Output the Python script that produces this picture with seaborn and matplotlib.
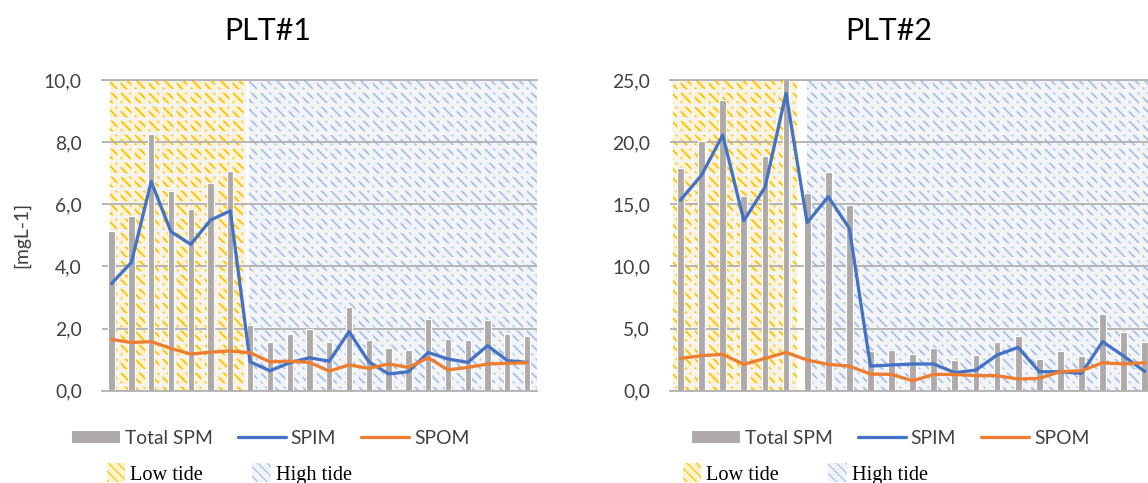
import matplotlib
matplotlib.use("Agg")
import matplotlib as mpl
import matplotlib.pyplot as plt
import pandas as pd
import seaborn as sns
from matplotlib.patches import Patch
from matplotlib.lines import Line2D
from matplotlib.ticker import FuncFormatter, MultipleLocator

# ---- PLT#1 (mg L-1) ----
plt1_total = [5.14, 5.62, 8.26, 6.43, 5.85, 6.70, 7.08, 2.11, 1.57, 1.82, 1.97,
              1.57, 2.68, 1.64, 1.37, 1.31, 2.31, 1.68, 1.63, 2.26, 1.82, 1.76]
plt1_spim = [3.45, 4.13, 6.73, 5.12, 4.71, 5.49, 5.79, 0.93, 0.64, 0.90, 1.06,
             0.95, 1.90, 0.93, 0.54, 0.61, 1.23, 1.02, 0.91, 1.45, 0.97, 0.91]
plt1_spom = [1.65, 1.55, 1.58, 1.36, 1.18, 1.24, 1.28, 1.22, 0.93, 0.95, 0.91,
             0.63, 0.83, 0.72, 0.86, 0.75, 1.06, 0.67, 0.75, 0.86, 0.88, 0.90]

# ---- PLT#2 (mg L-1) ----
plt2_total = [17.95, 20.12, 23.39, 15.69, 18.88, 27.00, 15.93, 17.60, 14.94, 3.19, 3.27,
              2.95, 3.43, 2.47, 2.87, 3.92, 4.40, 2.58, 3.17, 2.79, 6.14, 4.69, 3.90]
plt2_spim = [15.34, 17.36, 20.57, 13.68, 16.36, 23.93, 13.52, 15.61, 13.06, 1.98, 2.07,
             2.15, 2.15, 1.45, 1.66, 2.87, 3.49, 1.53, 1.53, 1.39, 3.94, 2.79, 1.55]
plt2_spom = [2.60, 2.82, 2.92, 2.12, 2.60, 3.08, 2.47, 2.12, 1.98, 1.34, 1.31,
             0.80, 1.31, 1.31, 1.21, 1.21, 0.94, 0.99, 1.53, 1.61, 2.25, 2.15, 2.25]

# tidal phases as sample-index ranges
plt1_low_tide = (-0.1, 6.8)
plt1_high_tide = (6.95, 21.5)
plt2_low_tide = (-0.34, 5.52)
plt2_high_tide = (5.98, 22.5)

titles = ["PLT#1", "PLT#2"]
y_max = [10.0, 25.0]
y_step = [2.0, 5.0]

BAR = "#AEAAAA"
BLUE = "#4472C4"
ORANGE = "#ED7D31"
GRID = "#B3B3B3"
TEXT = "#404040"
LOW_BG, LOW_HATCH = "#FFF3CF", "#FFC000"
HIGH_BG, HIGH_HATCH = "#F1F4FA", "#A9BEE4"
TILE = "#F4F4F4"

sns.set_style("white")
plt.rcParams["font.family"] = ["Lato", "DejaVu Sans"]

DPI = 84
W, H = 1148, 483
fig = plt.figure(figsize=(W / DPI, H / DPI), dpi=DPI)


def hatched_span(ax, span, face, color, hatch, width, z):
    with mpl.rc_context({"hatch.linewidth": width}):
        band = ax.axvspan(*span, facecolor=face, edgecolor=color, hatch=hatch,
                          lw=0, zorder=z)
    if hasattr(band, "set_hatch_linewidth"):
        band.set_hatch_linewidth(width)
    return band


def tide_band(ax, span, bg, stripe):
    # striped tiles separated by a light grid
    hatched_span(ax, span, bg, stripe, "\\\\\\", 1.5, 0.1)
    hatched_span(ax, span, "none", TILE, "+", 2.8, 0.2)


def panel(ax, total, spim, spom, low, high, ymax, ystep):
    n = len(total)
    df = pd.DataFrame({"sample": range(n), "total": total,
                       "spim": spim, "spom": spom})
    tide_band(ax, low, LOW_BG, LOW_HATCH)
    tide_band(ax, high, HIGH_BG, HIGH_HATCH)
    sns.barplot(data=df, x="sample", y="total", color=BAR, saturation=1,
                width=0.32, ax=ax, zorder=2)
    sns.lineplot(data=df, x="sample", y="spim", color=BLUE, lw=2.8,
                 ax=ax, zorder=3, legend=False)
    sns.lineplot(data=df, x="sample", y="spom", color=ORANGE, lw=2.8,
                 ax=ax, zorder=3, legend=False)
    ax.set_xlim(-0.5, n - 0.5)
    ax.set_ylim(0, ymax)
    ax.yaxis.set_major_locator(MultipleLocator(ystep))
    ax.yaxis.set_major_formatter(
        FuncFormatter(lambda v, _: f"{v:.1f}".replace(".", ",")))
    ax.set_axisbelow(True)
    ax.yaxis.grid(True, color=GRID, lw=1.6)
    ax.xaxis.grid(False)
    ax.set_xticks([])
    ax.set_xlabel("")
    ax.set_ylabel("")
    ax.tick_params(axis="y", length=0, pad=17, labelsize=16.5, labelcolor=TEXT)
    for side in ("left", "right"):
        ax.spines[side].set_visible(False)
    for side in ("top", "bottom"):
        ax.spines[side].set_color(GRID)
        ax.spines[side].set_linewidth(1.6)
    ax.patch.set_alpha(0)


bottom = (H - 390.7) / H
height = 310.7 / H
ax1 = fig.add_axes([101.7 / W, bottom, 435.3 / W, height])
ax2 = fig.add_axes([670.0 / W, bottom, 23 * 21.1 / W, height])

panel(ax1, plt1_total, plt1_spim, plt1_spom, plt1_low_tide, plt1_high_tide,
      y_max[0], y_step[0])
panel(ax2, plt2_total, plt2_spim, plt2_spom, plt2_low_tide, plt2_high_tide,
      y_max[1], y_step[1])

fig.text(268 / W, (H - 31) / H, titles[0], ha="center", va="center",
         fontsize=26, color="black")
fig.text(889 / W, (H - 31) / H, titles[1], ha="center", va="center",
         fontsize=26, color="black")
fig.text(22 / W, (H - 235) / H, "[mgL-1]", rotation=90, ha="center",
         va="center", fontsize=16.5, color=TEXT)


def legends(ax, x_series, x_tide):
    series_handles = [
        Patch(facecolor=BAR, edgecolor="none"),
        Line2D([], [], color=BLUE, lw=2.8),
        Line2D([], [], color=ORANGE, lw=2.8),
    ]
    leg1 = ax.legend(series_handles, ["Total SPM", "SPIM", "SPOM"], ncol=3,
                     loc="center left", bbox_to_anchor=(x_series / W, (H - 438) / H),
                     bbox_transform=fig.transFigure, frameon=False,
                     handlelength=2.5, handleheight=0.6, handletextpad=0.25,
                     columnspacing=1.3, borderpad=0, borderaxespad=0,
                     fontsize=16.5, labelcolor=TEXT)
    ax.add_artist(leg1)
    with mpl.rc_context({"hatch.linewidth": 1.5}):
        low_h = Patch(facecolor=LOW_BG, edgecolor=LOW_HATCH, hatch="\\\\\\", lw=0)
        high_h = Patch(facecolor=HIGH_BG, edgecolor=HIGH_HATCH, hatch="\\\\\\", lw=0)
    leg2 = ax.legend([low_h, high_h], ["Low tide", "High tide"], ncol=2,
                     loc="center left", bbox_to_anchor=(x_tide / W, (H - 474) / H),
                     bbox_transform=fig.transFigure, frameon=False,
                     handlelength=0.9, handleheight=1.0, handletextpad=0.25,
                     columnspacing=2.4, borderpad=0, borderaxespad=0,
                     prop={"family": ["Liberation Serif"], "size": 17.5},
                     labelcolor="black")
    return leg2


legends(ax1, 72, 107)
legends(ax2, 692, 683)

fig.savefig("out.png", dpi=DPI)
